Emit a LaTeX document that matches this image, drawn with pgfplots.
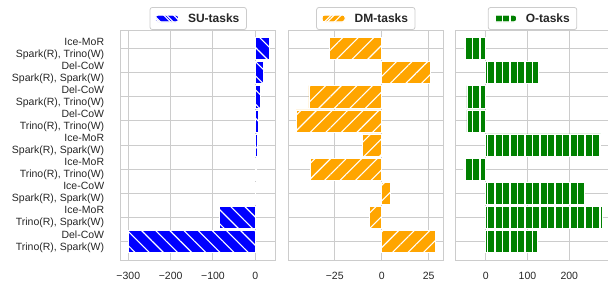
\documentclass[border=0pt]{standalone}
\usepackage{pgfplots}
\pgfplotsset{compat=1.18}
\usepackage{fontspec}
\setmainfont{Liberation Sans}
\usetikzlibrary{patterns.meta}
\definecolor{gridc}{gray}{0.8}
\definecolor{txt}{gray}{0.15}
\definecolor{mplblue}{RGB}{0,0,255}
\definecolor{mplorange}{RGB}{255,165,0}
\definecolor{mplgreen}{RGB}{0,128,0}
\pgfplotsset{
 panel/.style={
  scale only axis, width=155pt, height=230pt,
  anchor=south west,
  y dir=reverse, ymin=-0.77, ymax=8.77, ytick={0,...,8},
  xbar, bar width=0.92,
  grid=major, major grid style={gridc, line width=1pt},
  axis line style={gridc, line width=1pt},
  major tick length=0pt,
  tick label style={font=\fontsize{10.5}{12}\selectfont, text=txt},
  xticklabel style={yshift=-9pt},
  legend style={at={(0.5,1)}, anchor=south, draw=gridc, rounded corners=2.5pt,
    font=\bfseries\fontsize{12}{14}\selectfont, text=txt, inner xsep=5pt, inner ysep=4pt, line width=0.8pt},
 }
}
\begin{document}
\begin{tikzpicture}
\begin{axis}[panel, at={(120.7pt,-260pt)},
  xmin=-318, xmax=48.2, xtick={-300,-200,-100,0}, xticklabels={−300,−200,−100,0},
  yticklabel style={align=right, xshift=-13pt},
  yticklabels={{Ice-MoR\\Spark(R), Trino(W)},{Del-CoW\\Spark(R), Spark(W)},{Del-CoW\\Spark(R), Trino(W)},{Del-CoW\\Trino(R), Trino(W)},{Ice-MoR\\Spark(R), Spark(W)},{Ice-MoR\\Trino(R), Trino(W)},{Ice-CoW\\Spark(R), Spark(W)},{Ice-MoR\\Trino(R), Spark(W)},{Del-CoW\\Trino(R), Spark(W)}},
  legend image code/.code={\path[fill=mplblue, postaction={pattern={Lines[angle=-45,distance=7pt,line width=1.1pt]}, pattern color=white}] (0pt,-3.5pt) rectangle (23pt,3.5pt);}
]
\addplot[fill=mplblue, draw=white, line width=0.6pt, postaction={pattern={Lines[angle=-45,distance=10pt,line width=1.1pt]}, pattern color=white}]
 coordinates {(32,0) (19,1) (11,2) (7,3) (4,4) (3,5) (0.5,6) (-85,7) (-300,8)};
\addlegendentry{\hspace{7pt}SU-tasks}
\end{axis}
\begin{axis}[panel, at={(288.3pt,-260pt)},
  xmin=-49.7, xmax=32.8, xtick={-25,0,25}, xticklabels={−25,0,25},
  yticklabels={},
  legend image code/.code={\path[fill=mplorange, postaction={pattern={Lines[angle=45,distance=7pt,line width=1.1pt]}, pattern color=white}] (0pt,-3.5pt) rectangle (23pt,3.5pt);}
]
\addplot[fill=mplorange, draw=white, line width=0.6pt, postaction={pattern={Lines[angle=45,distance=11pt,line width=1.1pt]}, pattern color=white}]
 coordinates {(-28,0) (26,1) (-38.7,2) (-45.6,3) (-10.3,4) (-38,5) (4.8,6) (-6.6,7) (28.7,8)};
\addlegendentry{\hspace{7pt}DM-tasks}
\end{axis}
\begin{axis}[panel, at={(455pt,-260pt)},
  xmin=-73.4, xmax=297.4, xtick={0,100,200}, xticklabels={0,100,200},
  yticklabels={},
  legend image code/.code={\path[fill=mplgreen, postaction={pattern={Lines[angle=90,distance=7.5pt,line width=1.1pt]}, pattern color=white}] (0pt,-3.5pt) rectangle (23pt,3.5pt);}
]
\addplot[fill=mplgreen, draw=white, line width=0.6pt, postaction={pattern={Lines[angle=90,distance=7.5pt,line width=1.1pt]}, pattern color=white}]
 coordinates {(-51,0) (126,1) (-45,2) (-45,3) (275,4) (-54,5) (237,6) (280,7) (123,8)};
\addlegendentry{\hspace{7pt}O-tasks}
\end{axis}
\pgfresetboundingbox
\useasboundingbox (0pt,0pt) rectangle (608pt,-287pt);
\end{tikzpicture}
\end{document}
